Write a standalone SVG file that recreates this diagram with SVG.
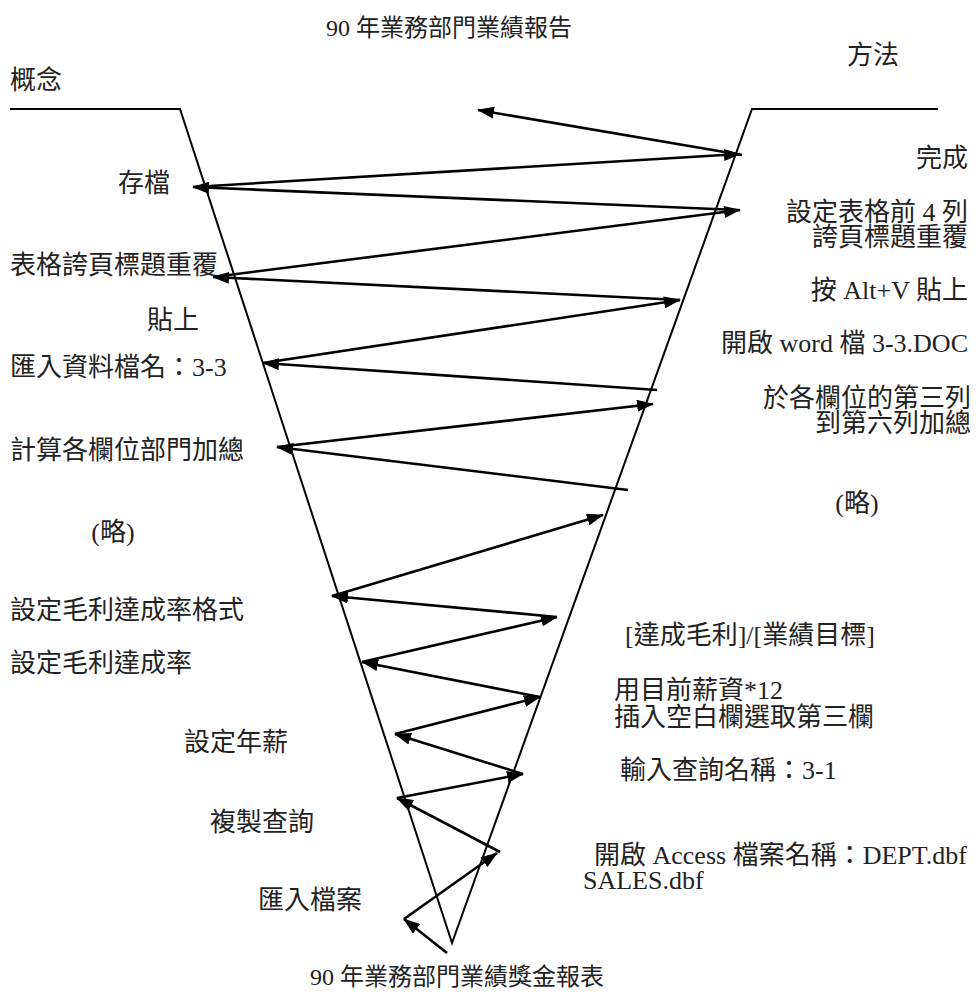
<svg xmlns="http://www.w3.org/2000/svg" width="978" height="996" viewBox="0 0 978 996">
<style>
text{font-family:"Liberation Serif","Noto Sans CJK TC",serif;font-size:26px;fill:#222}
.t{font-size:24px}
.r{text-anchor:end}
.frame{stroke:#000;stroke-width:2;fill:none}
.a{stroke:#000;stroke-width:2.6;fill:none;marker-end:url(#ah)}
</style>
<defs>
<marker id="ah" markerUnits="userSpaceOnUse" viewBox="0 0 17 12" refX="16" refY="6" markerWidth="17" markerHeight="12" orient="auto">
<path d="M0,0 L17,6 L0,12 Z" fill="#000"/>
</marker>
</defs>
<g id="frame">
<polyline class="frame" points="10,109 180,109 452,943 752,109 938,109"/>
</g>
<g id="connectors">
<line class="a" x1="742" y1="155" x2="478" y2="110"/>
<line class="a" x1="193" y1="187" x2="740" y2="154"/>
<line class="a" x1="738" y1="210" x2="193" y2="187"/>
<line class="a" x1="213" y1="277" x2="740" y2="210"/>
<line class="a" x1="680" y1="300" x2="213" y2="277"/>
<line class="a" x1="263" y1="363" x2="680" y2="300"/>
<line class="a" x1="657" y1="390" x2="263" y2="363"/>
<line class="a" x1="277" y1="447" x2="653" y2="404"/>
<line class="a" x1="628" y1="490" x2="277" y2="447"/>
<line class="a" x1="332" y1="596" x2="603" y2="515"/>
<line class="a" x1="557" y1="617" x2="332" y2="596"/>
<line class="a" x1="362" y1="662" x2="557" y2="617"/>
<line class="a" x1="540" y1="697" x2="362" y2="662"/>
<line class="a" x1="395" y1="734" x2="540" y2="697"/>
<line class="a" x1="523" y1="774" x2="395" y2="734"/>
<line class="a" x1="397" y1="798" x2="523" y2="774"/>
<line class="a" x1="500" y1="852" x2="397" y2="798"/>
<line class="a" x1="404" y1="919" x2="497" y2="853"/>
<line class="a" x1="447" y1="953" x2="404" y2="919"/>
</g>
<g id="title"><text class="t" x="449" y="36" text-anchor="middle">90 年業務部門業績報告</text></g>
<g id="bottom-title"><text class="t" x="457" y="985" text-anchor="middle">90 年業務部門業績獎金報表</text></g>
<g id="concept"><text x="10" y="89">概念</text></g>
<g id="method"><text x="873" y="64" text-anchor="middle">方法</text></g>
<g id="n-save"><text x="118" y="192">存檔</text></g>
<g id="n-repeat"><text x="10" y="274">表格誇頁標題重覆</text></g>
<g id="n-paste"><text x="147" y="329">貼上</text></g>
<g id="n-import"><text x="10" y="376">匯入資料檔名：3-3</text></g>
<g id="n-sum"><text x="10" y="459">計算各欄位部門加總</text></g>
<g id="n-omit-l"><text x="113" y="541" text-anchor="middle">(略)</text></g>
<g id="n-fmt"><text x="10" y="619">設定毛利達成率格式</text></g>
<g id="n-rate"><text x="10" y="672">設定毛利達成率</text></g>
<g id="n-annual"><text x="184" y="751">設定年薪</text></g>
<g id="n-copy"><text x="210" y="831">複製查詢</text></g>
<g id="n-importfile"><text x="258" y="909">匯入檔案</text></g>
<g id="m-done"><text class="r" x="968" y="167">完成</text></g>
<g id="m-set"><text class="r" x="968" y="221">設定表格前 4 列<tspan x="968" dy="25">誇頁標題重覆</tspan></text></g>
<g id="m-altv"><text class="r" x="968" y="299">按 Alt+V 貼上</text></g>
<g id="m-word"><text class="r" x="968" y="352">開啟 word 檔 3-3.DOC</text></g>
<g id="m-col"><text class="r" x="971" y="407">於各欄位的第三列<tspan x="971" dy="25">到第六列加總</tspan></text></g>
<g id="m-omit"><text x="857" y="512" text-anchor="middle">(略)</text></g>
<g id="m-ratio"><text x="625" y="644">[達成毛利]/[業績目標]</text></g>
<g id="m-salary"><text x="614" y="699">用目前薪資*12<tspan x="614" dy="27">插入空白欄選取第三欄</tspan></text></g>
<g id="m-query"><text x="620" y="779">輸入查詢名稱：3-1</text></g>
<g id="m-access"><text x="594" y="864">開啟 Access 檔案名稱：DEPT.dbf<tspan x="583" dy="25">SALES.dbf</tspan></text></g>
</svg>
